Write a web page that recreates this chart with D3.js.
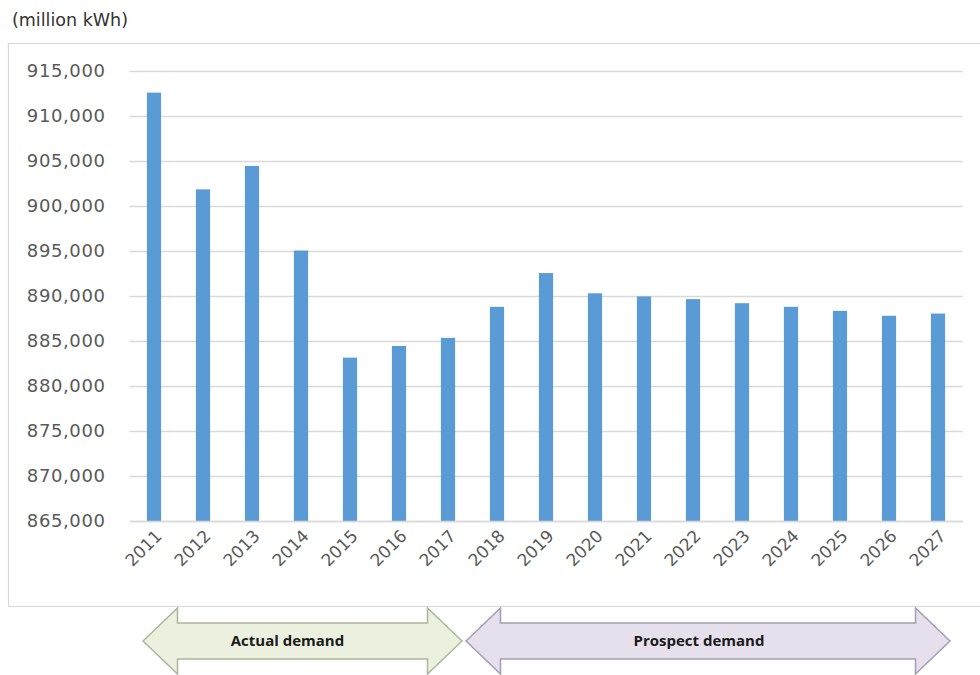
<!DOCTYPE html>
<html>
<head>
<meta charset="utf-8">
<script src="https://cdn.jsdelivr.net/npm/d3@7"></script>
<style>
  html, body { margin: 0; padding: 0; background: #fff; }
  svg { display: block; }
</style>
</head>
<body>
<svg id="chart" width="980" height="675"></svg>
<script>
// ---- data ----
const years = ["2011","2012","2013","2014","2015","2016","2017","2018","2019","2020","2021","2022","2023","2024","2025","2026","2027"];
const demand = [912600, 901850, 904450, 895050, 883150, 884450, 885350, 888800, 892550, 890300, 889950, 889650, 889200, 888800, 888350, 887800, 888050];
const yTicks = [865000, 870000, 875000, 880000, 885000, 890000, 895000, 900000, 905000, 910000, 915000];
const unitLabel = "(million kWh)";
const periodLabels = ["Actual demand", "Prospect demand"];
const periodStart = ["2011", "2018"];
const periodEnd = ["2017", "2027"];

// ---- layout ----
const svg = d3.select("#chart");
const plot = { left: 129.5, right: 962.5, top: 71, bottom: 521 };

const x = d3.scaleBand().domain(years).range([plot.left, plot.right]).paddingInner(0.71).paddingOuter(0.355);
const y = d3.scaleLinear().domain([865000, 915000]).range([plot.bottom, plot.top]);

// chart frame
svg.append("rect")
  .attr("x", 8.5).attr("y", 43.5).attr("width", 990).attr("height", 563)
  .attr("fill", "none").attr("stroke", "#d9d9d9").attr("stroke-width", 1.2);

// unit label
svg.append("text")
  .attr("x", 12).attr("y", 26)
  .attr("font-family", "DejaVu Sans, sans-serif").attr("font-size", 17.5)
  .attr("fill", "#333")
  .text(unitLabel);

// gridlines + y labels
const fmt = d3.format(",");
const yAxis = d3.axisLeft(y).tickValues(yTicks).tickFormat(fmt)
  .tickSize(-(plot.right - plot.left)).tickPadding(24);
const gy = svg.append("g").attr("transform", `translate(${plot.left},0)`).call(yAxis);
gy.select(".domain").remove();
gy.selectAll(".tick line").attr("stroke", "#d9d9d9").attr("stroke-width", 1.6);
gy.selectAll(".tick text")
  .attr("font-family", "DejaVu Sans, sans-serif").attr("font-size", 18)
  .attr("letter-spacing", "0.6px")
  .attr("fill", "#595959");

// bars
svg.append("g").selectAll("rect").data(years).join("rect")
  .attr("x", d => x(d))
  .attr("width", x.bandwidth())
  .attr("y", (d, i) => y(demand[i]))
  .attr("height", (d, i) => y(865000) - y(demand[i]))
  .attr("fill", "#5b9bd5");

// x axis
const xAxis = d3.axisBottom(x).tickSize(0).tickPadding(0);
const gx = svg.append("g").attr("transform", `translate(0,${plot.bottom})`).call(xAxis);
gx.select(".domain").attr("stroke", "#d9d9d9").attr("stroke-width", 1.6);
gx.selectAll(".tick text")
  .attr("font-family", "DejaVu Sans, sans-serif").attr("font-size", 17)
  .attr("fill", "#595959")
  .attr("text-anchor", "end")
  .attr("dy", null).attr("y", null)
  .attr("transform", "translate(9,16) rotate(-45)");

// period arrows
const arrowStyles = [
  { fill: "#ebf1de", stroke: "#a9b89a", tipL: -11, tipR: 14 },
  { fill: "#e5e0ec", stroke: "#a49db5", tipL: -31, tipR: 12 }
];
const cy = 641, headH = 33, shaftH = 18, headW = 34.5;
periodLabels.forEach((lab, i) => {
  const st = arrowStyles[i];
  const xl = x(periodStart[i]) + x.bandwidth() / 2 + st.tipL;
  const xr = x(periodEnd[i]) + x.bandwidth() / 2 + st.tipR;
  const p = d3.path();
  p.moveTo(xl, cy);
  p.lineTo(xl + headW, cy - headH);
  p.lineTo(xl + headW, cy - shaftH);
  p.lineTo(xr - headW, cy - shaftH);
  p.lineTo(xr - headW, cy - headH);
  p.lineTo(xr, cy);
  p.lineTo(xr - headW, cy + headH);
  p.lineTo(xr - headW, cy + shaftH);
  p.lineTo(xl + headW, cy + shaftH);
  p.lineTo(xl + headW, cy + headH);
  p.closePath();
  svg.append("path").attr("d", p.toString())
    .attr("fill", st.fill).attr("stroke", st.stroke).attr("stroke-width", 1.5);
  svg.append("text")
    .attr("x", (xl + xr) / 2 - (i === 0 ? 15 : 9)).attr("y", cy + 5)
    .attr("text-anchor", "middle")
    .attr("font-family", "Open Sans, sans-serif").attr("font-weight", 700)
    .attr("font-size", 15).attr("fill", "#1a1a1a")
    .text(lab);
});
</script>
</body>
</html>
